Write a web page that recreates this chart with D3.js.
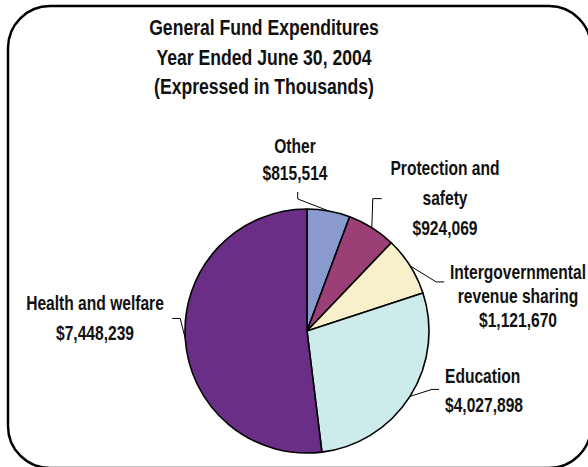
<!DOCTYPE html>
<html><head><meta charset="utf-8">
<script src="https://cdn.jsdelivr.net/npm/d3@7"></script>
<style>
html,body{margin:0;padding:0;background:#fff;}
svg{display:block;}
text{font-family:"Liberation Sans",Arial,sans-serif;font-weight:bold;fill:#111;}
</style></head>
<body>
<svg id="c" width="588" height="467"></svg>
<script>
const titleLines = ["General Fund Expenditures", "Year Ended June 30, 2004", "(Expressed in Thousands)"];
const categories = ["Other", "Protection and safety", "Intergovernmental revenue sharing", "Education", "Health and welfare"];
const values = [815514, 924069, 1121670, 4027898, 7448239];
const colors = ["#8A9ACF", "#9B3F77", "#F7F0CA", "#CEEBEC", "#6B2E86"];
const labelLines = [
  ["Other", "$815,514"],
  ["Protection and", "safety", "$924,069"],
  ["Intergovernmental", "revenue sharing", "$1,121,670"],
  ["Education", "$4,027,898"],
  ["Health and welfare", "$7,448,239"]
];

// layout (positions only)
const W = 588, H = 467;
const cx = 307, cy = 331, R = 122;
const SX = 0.8;
const labelLayout = [
  {x: 295, y: 153, dy: 27, anchor: "middle", knee: [-31, -12], tail: [0, -7]},
  {x: 445, y: 175, dy: 30, anchor: "middle", knee: [1, -29], tail: [9, 0]},
  {x: 518, y: 279, dy: 24, anchor: "middle", knee: [26, 16], tail: [8, 0]},
  {x: 445, y: 383, dy: 29, anchor: "start", knee: [22, -7], tail: [7, 0]},
  {x: 95, y: 310, dy: 30, anchor: "middle", knee: [-5, -20], tail: [-8, 0]}
];

const svg = d3.select("#c");

// frame
svg.append("rect").attr("x", 8).attr("y", 6).attr("width", 583).attr("height", 462)
  .attr("rx", 42).attr("ry", 42).attr("fill", "none").attr("stroke", "#000").attr("stroke-width", 2.5);

// title
svg.append("g").selectAll("text").data(titleLines).join("text")
  .attr("transform", (d, i) => `translate(264,${35 + i * 29.5}) scale(${SX},1)`)
  .attr("text-anchor", "middle").style("font-size", "22px").text(d => d);

const data = categories.map((c, i) => ({name: c, value: values[i], color: colors[i], lines: labelLines[i], lay: labelLayout[i]}));
const pie = d3.pie().sort(null).value(d => d.value);
const arcs = pie(data);
const arc = d3.arc().innerRadius(0).outerRadius(R);

const g = svg.append("g").attr("transform", `translate(${cx},${cy})`);
g.selectAll("path").data(arcs).join("path")
  .attr("d", arc).attr("fill", d => d.data.color)
  .attr("stroke", "#000").attr("stroke-width", 1.6).attr("stroke-linejoin", "round");

// leader lines
const edge = d3.arc().innerRadius(R).outerRadius(R);
g.selectAll("polyline").data(arcs).join("polyline")
  .attr("fill", "none").attr("stroke", "#000").attr("stroke-width", 1)
  .attr("points", d => {
    const p = edge.centroid(d);
    const k = [p[0] + d.data.lay.knee[0], p[1] + d.data.lay.knee[1]];
    const t = [k[0] + d.data.lay.tail[0], k[1] + d.data.lay.tail[1]];
    return [p, k, t].map(q => q.join(",")).join(" ");
  });

// labels
const lg = svg.append("g");
data.forEach(d => {
  lg.append("g").selectAll("text").data(d.lines).join("text")
    .attr("transform", (t, i) => `translate(${d.lay.x},${d.lay.y + i * d.lay.dy}) scale(${SX},1)`)
    .attr("text-anchor", d.lay.anchor).style("font-size", "19.5px").text(t => t);
});
</script>
</body></html>
